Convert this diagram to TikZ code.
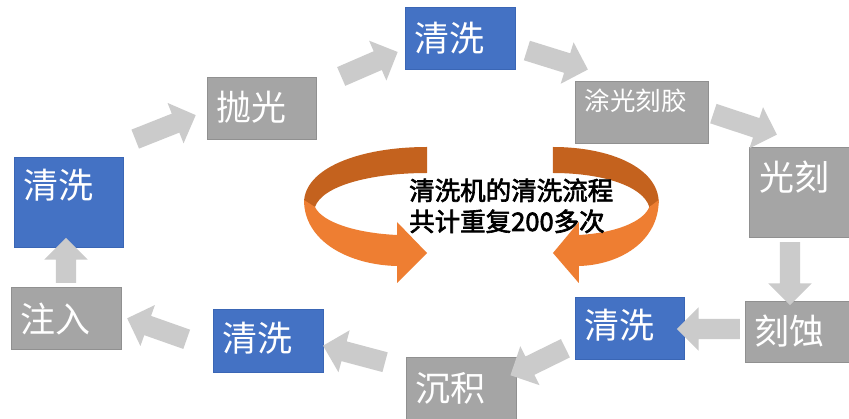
\documentclass[tikz,border=0pt]{standalone}
\usepackage{fontspec}
\setmainfont{Noto Sans CJK SC}
\newfontfamily\medfont[FakeBold=2.5]{Noto Sans CJK SC}
\usetikzlibrary{shapes.arrows,calc}
\definecolor{boxblue}{HTML}{4472C4}
\definecolor{boxblueedge}{HTML}{3A66B5}
\definecolor{boxgray}{HTML}{A5A5A5}
\definecolor{boxgrayedge}{HTML}{909090}
\definecolor{arrowgray}{HTML}{CBCBCB}
\definecolor{orangedark}{HTML}{C4621E}
\definecolor{orangelight}{HTML}{EE7E32}
\tikzset{
  box/.style={rectangle, inner sep=0pt, line width=0.8pt, anchor=north west},
  bluebox/.style={box, fill=boxblue, draw=boxblueedge},
  graybox/.style={box, fill=boxgray, draw=boxgrayedge},
  boxtext/.style={text=white, font=\fontsize{35}{40}\selectfont, inner sep=0pt, anchor=west},
  smalltext/.style={boxtext, font=\fontsize{25.5}{30}\selectfont},
  centertext/.style={text=black, font=\fontsize{25.5}{32}\selectfont\medfont, inner sep=0pt, anchor=base west},
  garrow/.style={single arrow, fill=arrowgray, draw=none, inner xsep=0pt, inner ysep=10pt,
    single arrow head extend=11.5pt, single arrow tip angle=90, anchor=center},
}
\newcommand\garrowfromto[2]{%
  \path let \p1=#1, \p2=#2, \n1={atan2(\y2-\y1,\x2-\x1)}, \n2={veclen(\x2-\x1,\y2-\y1)} in
    ($#1!0.5!#2$) node[garrow, minimum height=\n2, rotate=\n1] {};}
\newcommand\orangeloop{%
  \fill[orangedark] (427,147) .. controls (360,147) and (304,168) .. (304,203)
    -- (315,207) .. controls (322,186) and (370,173) .. (427,173) -- cycle;
  \fill[orangelight] (304,200) .. controls (304,242) and (350,265) .. (397,266)
    -- (397,283) -- (427,253) -- (397,222) -- (397,235)
    .. controls (355,233) and (322,222) .. (315,207) -- cycle;}
\begin{document}
\begin{tikzpicture}[x=1pt,y=-1pt]
\fill[white] (0,0) rectangle (849,419);
\useasboundingbox (0,0) rectangle (849,419);

% boxes
\node[bluebox, minimum width=109pt, minimum height=90pt] (c1) at (14,157) {};
\node[graybox, minimum width=109pt, minimum height=62pt] (p) at (207,77) {};
\node[bluebox, minimum width=110pt, minimum height=62pt] (c2) at (405,7) {};
\node[graybox, minimum width=133pt, minimum height=62pt] (t) at (575,81) {};
\node[graybox, minimum width=102pt, minimum height=90pt] (g) at (749,147) {};
\node[graybox, minimum width=106pt, minimum height=61pt] (k) at (745,301) {};
\node[bluebox, minimum width=109pt, minimum height=62pt] (c3) at (575,297) {};
\node[graybox, minimum width=110pt, minimum height=66pt] (d) at (406,357) {};
\node[bluebox, minimum width=110pt, minimum height=63pt] (c4) at (213,309) {};
\node[graybox, minimum width=110pt, minimum height=62pt] (z) at (11,287) {};

% box texts
\node[boxtext] (c1t) at (23.5,185) {清洗};
\node[boxtext] (pt) at (216.5,107.5) {抛光};
\node[boxtext] (c2t) at (414.5,38) {清洗};
\node[smalltext] (tt) at (584.5,101) {涂光刻胶};
\node[boxtext] (gt) at (759,177) {光刻};
\node[boxtext] (kt) at (754.5,331.5) {刻蚀};
\node[boxtext] (c3t) at (584.5,325) {清洗};
\node[boxtext] (dt) at (415.5,388) {沉积};
\node[boxtext] (c4t) at (222.5,338.5) {清洗};
\node[boxtext] (zt) at (20.5,319.5) {注入};

% block arrows
\coordinate (a1s) at (66,288);   \coordinate (a1e) at (66,243);
\coordinate (a2s) at (130.5,141); \coordinate (a2e) at (191,117);
\coordinate (a3s) at (336.5,78.5); \coordinate (a3e) at (393,54);
\coordinate (a4s) at (522,49);   \coordinate (a4e) at (583,68);
\coordinate (a5s) at (708.5,112); \coordinate (a5e) at (772,133);
\coordinate (a6s) at (790,237);  \coordinate (a6e) at (790,300);
\coordinate (a7s) at (745,329);  \coordinate (a7e) at (682,329);
\coordinate (a8s) at (570,346);  \coordinate (a8e) at (515,373);
\coordinate (a9s) at (390,363.5); \coordinate (a9e) at (328,347);
\coordinate (a10s) at (191.5,341); \coordinate (a10e) at (132,320);
\garrowfromto{(a1s)}{(a1e)}
\garrowfromto{(a2s)}{(a2e)}
\garrowfromto{(a3s)}{(a3e)}
\garrowfromto{(a4s)}{(a4e)}
\garrowfromto{(a5s)}{(a5e)}
\garrowfromto{(a6s)}{(a6e)}
\garrowfromto{(a7s)}{(a7e)}
\garrowfromto{(a8s)}{(a8e)}
\garrowfromto{(a9s)}{(a9e)}
\garrowfromto{(a10s)}{(a10e)}

% orange loops
\orangeloop
\begin{scope}[xshift=920.2pt, xscale=-0.86]
  \orangeloop
\end{scope}

% center text
\node[centertext] (l1) at (409,200) {清洗机的清洗流程};
\node[centertext] (l2) at (409,231) {共计重复200多次};
\end{tikzpicture}
\end{document}
